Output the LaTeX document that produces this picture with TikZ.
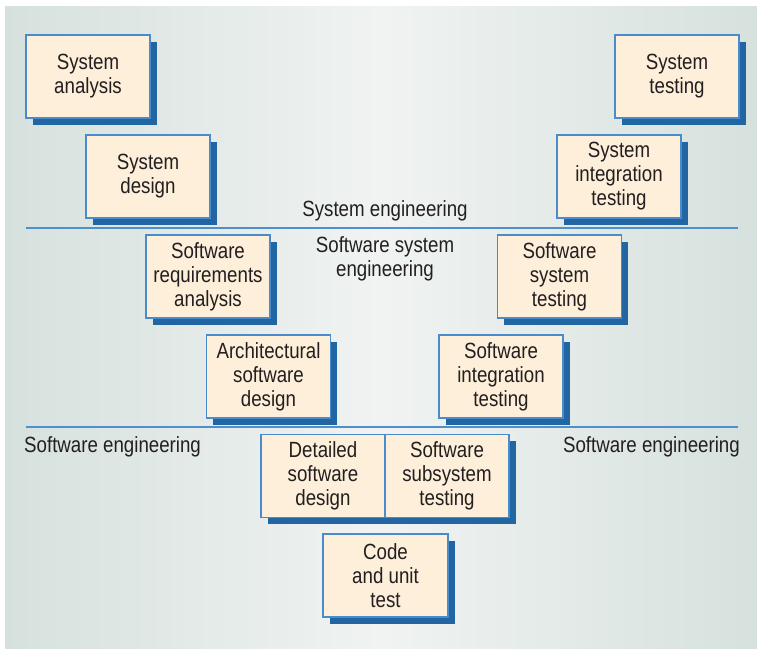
\documentclass[tikz,border=0pt]{standalone}
\usepackage{fontspec}
\setmainfont{Liberation Sans}[FakeStretch=0.85]
\usetikzlibrary{shadows}
\definecolor{cream}{HTML}{FDEFD9}
\definecolor{boxblue}{HTML}{4A8BCB}
\definecolor{shadowblue}{HTML}{2166A3}
\definecolor{linecol}{HTML}{4F90CC}
\definecolor{txt}{HTML}{231F20}
\definecolor{bgside}{HTML}{D6E1DD}
\definecolor{bgmid}{HTML}{F0F3F2}
\begin{document}
\begin{tikzpicture}[x=1pt,y=-1pt,
  stagebox/.style={draw=boxblue, fill=cream, line width=1.1pt, minimum width=124pt, minimum height=83pt,
    inner sep=0pt, align=center, text=txt, font=\fontsize{22}{24}\selectfont,
    drop shadow={shadow xshift=6.5pt, shadow yshift=-6.5pt, fill=shadowblue, opacity=1}},
  lbl/.style={text=txt, font=\fontsize{22}{24}\selectfont, align=center, inner sep=0pt},
  sep/.style={draw=linecol, line width=1.4pt}]
\useasboundingbox (0,0) rectangle (757,648);
\shade[left color=bgside, right color=bgside, middle color=bgmid] (5,6) rectangle (757,648);
% separator lines
\coordinate (l1a) at (26,228); \coordinate (l1b) at (738,228);
\coordinate (l2a) at (26,427); \coordinate (l2b) at (738,427);
\draw[sep] (l1a) -- (l1b);
\draw[sep] (l2a) -- (l2b);
% boxes
\node[stagebox] (sa) at (88,76.5) {System\\analysis};
\node[stagebox] (sd) at (148,176.5) {System\\design};
\node[stagebox] (st) at (677,76.5) {System\\testing};
\node[stagebox] (sit) at (619,176.5) {System\\integration\\testing};
\node[stagebox] (sra) at (208,276.5) {Software\\requirements\\analysis};
\node[stagebox] (asd) at (268.5,376.5) {Architectural\\software\\design};
\node[stagebox] (sst) at (559.5,276.5) {Software\\system\\testing};
\node[stagebox] (sint) at (501,376.5) {Software\\integration\\testing};
\node[stagebox] (dsd) at (323,476) {Detailed\\software\\design};
\node[stagebox] (ssub) at (447,476) {Software\\subsystem\\testing};
\node[stagebox, minimum width=125pt] (cut) at (385.5,575.5) {Code\\and unit\\test};
% labels
\node[lbl] (syseng) at (385,210.5) {System engineering};
\node[lbl] (swsyseng) at (385,258.5) {Software system\\engineering};
\node[lbl, anchor=west] (sweL) at (24,446.5) {Software engineering};
\node[lbl, anchor=east] (sweR) at (740,446.5) {Software engineering};
\end{tikzpicture}
\end{document}
